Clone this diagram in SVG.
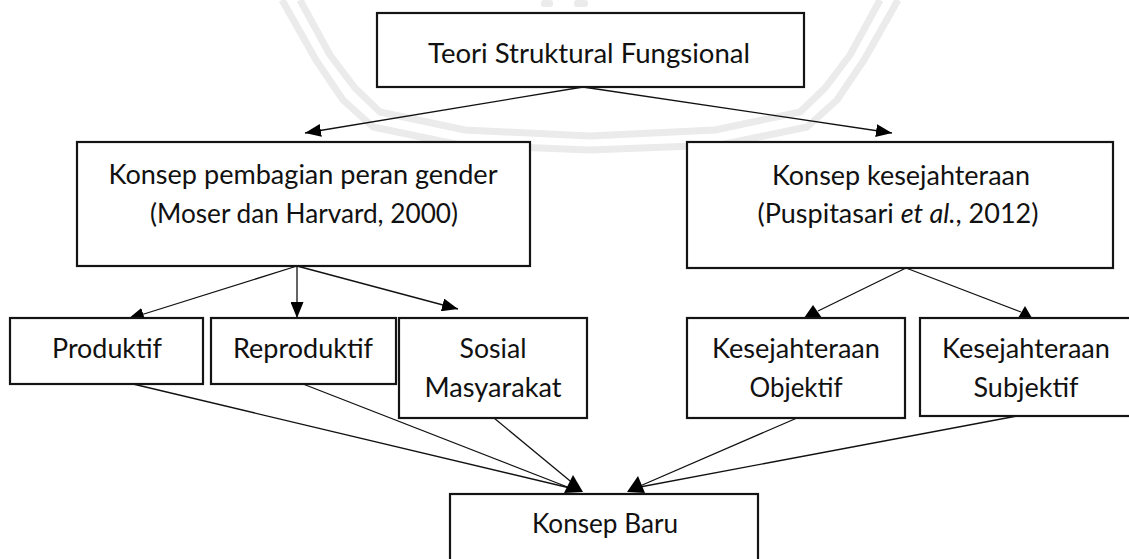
<svg xmlns="http://www.w3.org/2000/svg" width="1129" height="559" viewBox="0 0 1129 559">
  <style>
    .box { fill: #ffffff; stroke: #141414; stroke-width: 2.2; }
    .lbl { font-family: Lato, "Liberation Sans", sans-serif; font-size: 27px; fill: #111111; text-anchor: middle; }
    .con { fill: none; stroke: #111111; stroke-width: 1.3; }
    .ah { fill: #000000; }
    .wm { fill: none; stroke: #ebebeb; stroke-width: 7; stroke-linejoin: round; }
  </style>
  <defs>
    <marker id="arrow" markerUnits="userSpaceOnUse" markerWidth="16" markerHeight="13" refX="16" refY="6.5" orient="auto">
      <path d="M0,0 L16,6.5 L0,13 z" fill="#000000"/>
    </marker>
  </defs>
  <rect x="0" y="0" width="1129" height="559" fill="#ffffff"/>

  <g id="watermark">
    <polyline class="wm" points="282,0 316,60 343,100 373,127 460,145 590,150 720,145 807,127 837,100 864,60 898,0"/>
    <polyline class="wm" points="300,0 330,55 355,88 380,112 465,130 590,136 715,130 800,112 825,88 850,55 880,0"/>
    <rect x="541" y="0" width="12" height="7" rx="3" fill="#ebebeb"/>
    <rect x="574" y="0" width="14" height="7" rx="3" fill="#ebebeb"/>
  </g>

  <g id="connectors">
    <line class="con" x1="583" y1="87" x2="305" y2="133" marker-end="url(#arrow)"/>
    <line class="con" x1="583" y1="87" x2="892" y2="133" marker-end="url(#arrow)"/>
    <line class="con" x1="297" y1="266" x2="128" y2="319" marker-end="url(#arrow)"/>
    <line class="con" x1="297" y1="266" x2="297" y2="318" marker-end="url(#arrow)"/>
    <line class="con" x1="297" y1="266" x2="458" y2="309" marker-end="url(#arrow)"/>
    <line class="con" x1="906" y1="268" x2="818" y2="311"/>
    <polygon class="ah" points="813,305 804,318 822,318"/>
    <line class="con" x1="906" y1="268" x2="1021" y2="312"/>
    <polygon class="ah" points="1025,306 1018,318 1032,318"/>
    <line class="con" x1="133" y1="384" x2="570" y2="488"/>
    <line class="con" x1="303" y1="384" x2="570" y2="488"/>
    <line class="con" x1="494" y1="418" x2="575" y2="485"/>
    <polygon class="ah" points="573,475 583,492 564,493"/>
    <line class="con" x1="797" y1="418" x2="640" y2="486"/>
    <line class="con" x1="1017" y1="416" x2="640" y2="487"/>
    <polygon class="ah" points="638,476 627,492 645,493"/>
  </g>

  <g id="teori">
    <rect class="box" x="377" y="13" width="427" height="74"/>
    <text class="lbl" x="589" y="63" textLength="322" lengthAdjust="spacingAndGlyphs">Teori Struktural Fungsional</text>
  </g>

  <g id="gender">
    <rect class="box" x="77" y="142" width="453" height="124"/>
    <text class="lbl" x="303" y="184" textLength="389" lengthAdjust="spacingAndGlyphs">Konsep pembagian peran gender</text>
    <text class="lbl" x="304" y="223" textLength="308" lengthAdjust="spacingAndGlyphs">(Moser dan Harvard, 2000)</text>
  </g>

  <g id="kesejahteraan">
    <rect class="box" x="687" y="142" width="426" height="126"/>
    <text class="lbl" x="901" y="185" textLength="258" lengthAdjust="spacingAndGlyphs">Konsep kesejahteraan</text>
    <text class="lbl" x="898" y="223" textLength="281" lengthAdjust="spacingAndGlyphs">(Puspitasari <tspan font-style="italic">et al.</tspan>, 2012)</text>
  </g>

  <g id="produktif">
    <rect class="box" x="10" y="318" width="193" height="66"/>
    <text class="lbl" x="107" y="358" textLength="110" lengthAdjust="spacingAndGlyphs">Produktif</text>
  </g>

  <g id="reproduktif">
    <rect class="box" x="211" y="318" width="185" height="66"/>
    <text class="lbl" x="303" y="358" textLength="140" lengthAdjust="spacingAndGlyphs">Reproduktif</text>
  </g>

  <g id="sosial">
    <rect class="box" x="399" y="318" width="188" height="100"/>
    <text class="lbl" x="493" y="358" textLength="67" lengthAdjust="spacingAndGlyphs">Sosial</text>
    <text class="lbl" x="493" y="397" textLength="137" lengthAdjust="spacingAndGlyphs">Masyarakat</text>
  </g>

  <g id="objektif">
    <rect class="box" x="687" y="318" width="218" height="100"/>
    <text class="lbl" x="796" y="358" textLength="168" lengthAdjust="spacingAndGlyphs">Kesejahteraan</text>
    <text class="lbl" x="796" y="397" textLength="93" lengthAdjust="spacingAndGlyphs">Objektif</text>
  </g>

  <g id="subjektif">
    <rect class="box" x="920" y="318" width="220" height="98"/>
    <text class="lbl" x="1026" y="358" textLength="168" lengthAdjust="spacingAndGlyphs">Kesejahteraan</text>
    <text class="lbl" x="1026" y="397" textLength="105" lengthAdjust="spacingAndGlyphs">Subjektif</text>
  </g>

  <g id="konsep-baru">
    <rect class="box" x="450" y="494" width="308" height="80"/>
    <text class="lbl" x="605" y="533" textLength="146" lengthAdjust="spacingAndGlyphs">Konsep Baru</text>
  </g>
</svg>
